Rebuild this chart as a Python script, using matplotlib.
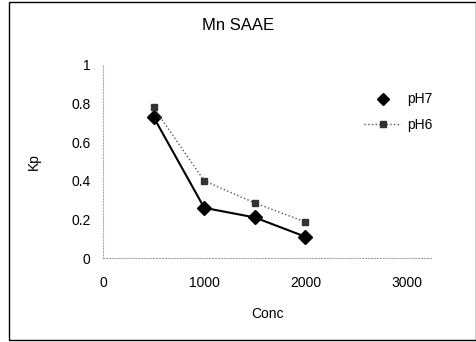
import matplotlib
matplotlib.use("Agg")
import matplotlib.pyplot as plt
from matplotlib.patches import Rectangle

conc = [500, 1000, 1500, 2000]
ph7 = [0.73, 0.26, 0.21, 0.11]
ph6 = [0.78, 0.40, 0.285, 0.187]
xticks = [0, 1000, 2000, 3000]
yticks = [0, 0.2, 0.4, 0.6, 0.8, 1]
ytick_labels = ["0", "0.2", "0.4", "0.6", "0.8", "1"]

plt.rcParams['font.family'] = ['Liberation Sans', 'DejaVu Sans']

fig = plt.figure(figsize=(4.77, 3.42), dpi=100)
fig.patch.set_facecolor('white')
fig.patches.append(Rectangle((9/477, 2/342), 467/477, 338/342, transform=fig.transFigure,
                             fill=False, edgecolor='black', linewidth=1.0))

ax = fig.add_axes([103/477, 84/342, 329/477, 193/342])
ax.plot(conc, ph7, color='black', linewidth=1.5, marker='D', markersize=7, label='pH7')
ax.plot(conc, ph6, color='#555555', linewidth=1.0, linestyle=':', marker='s', markersize=5,
        markerfacecolor='#333333', markeredgecolor='#333333', label='pH6')

ax.set_xlim(0, 3250)
ax.set_ylim(0, 1)
ax.set_xticks(xticks)
ax.set_yticks(yticks)
ax.set_yticklabels(ytick_labels)
ax.tick_params(axis='both', length=0, labelsize=10)
ax.tick_params(axis='x', pad=13)
ax.tick_params(axis='y', pad=9)
for s in ['top', 'right']:
    ax.spines[s].set_visible(False)
for s in ['left', 'bottom']:
    ax.spines[s].set_color('#aaaaaa')
    ax.spines[s].set_linestyle(':')
    ax.spines[s].set_linewidth(0.8)

ax.set_xlabel('Conc', fontsize=10, labelpad=12)
ax.set_ylabel('Kp', fontsize=10, labelpad=22)
fig.text(238/477, 1 - 25/342, 'Mn SAAE', ha='center', va='center', fontsize=12)

leg = ax.legend(loc='upper left', bbox_to_anchor=(352/477, 1 - 80/342), bbox_transform=fig.transFigure,
                frameon=False, fontsize=10, handlelength=2.6, labelspacing=0.8, handletextpad=0.5)
leg.legend_handles[0].set_linestyle('None')
leg.legend_handles[0].set_markersize(6)

fig.savefig('out.png', dpi=100)
